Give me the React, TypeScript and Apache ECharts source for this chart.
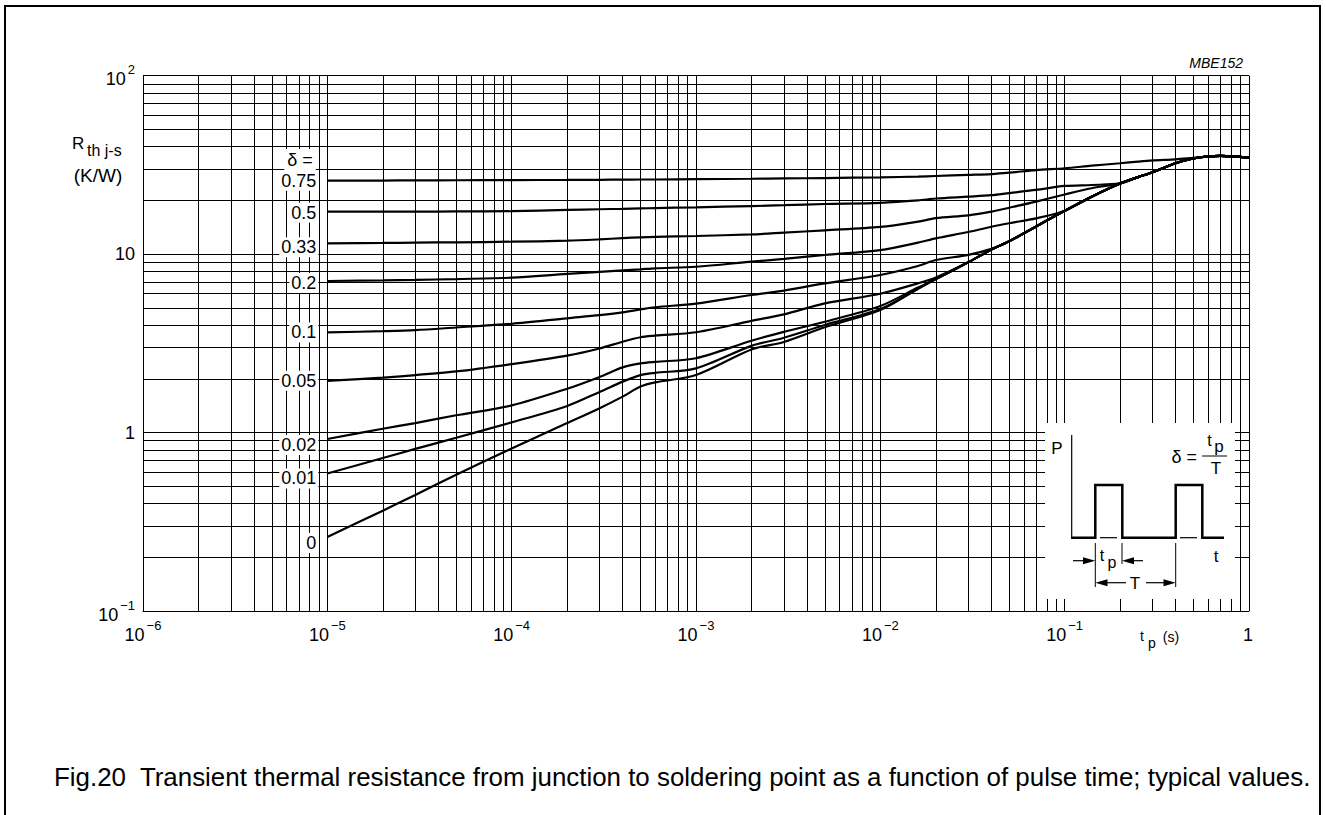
import React, { useEffect, useRef } from "react";
import * as echarts from "echarts";

const FONT = '"Liberation Sans", Arial, Helvetica, sans-serif';

// pulse time t_p (s)
const tp = [1e-5, 2e-5, 3e-5, 5e-5, 1e-4, 2e-4, 3e-4, 4e-4, 5e-4, 6e-4, 1e-3, 2e-3, 3e-3, 5e-3, 1e-2, 1.6e-2, 2e-2, 3e-2, 4e-2, 5e-2, 7e-2, 0.1, 0.14, 0.2, 0.25, 0.3, 0.4, 0.5, 0.7, 1];

// Rth j-s (K/W) per duty factor delta
const rD075 = [25.8, 25.85, 25.9, 25.95, 26.0, 26.05, 26.1, 26.15, 26.2, 26.2, 26.3, 26.45, 26.55, 26.7, 26.95, 27.2, 27.4, 27.8, 28.1, 28.6, 29.6, 30.3, 31.3, 32.3, 33.0, 33.5, 34.0, 34.6, 35.5, 34.7];
const rD050 = [17.3, 17.3, 17.3, 17.35, 17.4, 17.7, 17.85, 17.95, 18.04, 18.11, 18.3, 18.6, 18.8, 19.1, 19.4, 20.0, 20.5, 21.0, 21.4, 22.0, 22.9, 24.1, 24.4, 24.9, 27.0, 28.8, 32.3, 34.4, 35.5, 34.7];
const rD033 = [11.5, 11.55, 11.6, 11.65, 11.74, 11.89, 12.1, 12.3, 12.42, 12.5, 12.64, 12.9, 13.2, 13.6, 14.2, 15.2, 15.9, 16.5, 17.3, 18.2, 19.7, 21.6, 23.4, 24.9, 27.0, 28.8, 32.3, 34.4, 35.5, 34.7];
const rD020 = [7.07, 7.12, 7.17, 7.25, 7.38, 7.75, 7.95, 8.1, 8.22, 8.33, 8.5, 9.07, 9.4, 9.89, 10.54, 11.6, 12.26, 13.3, 14.24, 14.9, 15.87, 17.5, 21.0, 24.9, 27.0, 28.8, 32.3, 34.4, 35.5, 34.7];
const rD010 = [3.64, 3.7, 3.75, 3.88, 4.07, 4.37, 4.55, 4.72, 4.9, 5.04, 5.28, 5.9, 6.25, 6.86, 7.64, 8.58, 9.27, 9.9, 10.7, 11.8, 14.3, 17.5, 21.0, 24.9, 27.0, 28.8, 32.3, 34.4, 35.5, 34.7];
const rD005 = [1.95, 2.03, 2.1, 2.2, 2.42, 2.7, 2.96, 3.23, 3.42, 3.49, 3.65, 4.23, 4.6, 5.3, 6.0, 6.86, 7.4, 9.0, 10.6, 11.8, 14.3, 17.5, 21.0, 24.9, 27.0, 28.8, 32.3, 34.4, 35.5, 34.7];
const rD002 = [0.92, 1.05, 1.13, 1.25, 1.42, 1.76, 2.05, 2.32, 2.44, 2.49, 2.61, 3.27, 3.67, 4.18, 5.12, 6.5, 7.25, 9.0, 10.6, 11.8, 14.3, 17.5, 21.0, 24.9, 27.0, 28.8, 32.3, 34.4, 35.5, 34.7];
const rD001 = [0.59, 0.72, 0.81, 0.935, 1.14, 1.41, 1.69, 1.93, 2.1, 2.16, 2.29, 3.06, 3.4, 4.01, 4.92, 6.4, 7.25, 9.0, 10.6, 11.8, 14.3, 17.5, 21.0, 24.9, 27.0, 28.8, 32.3, 34.4, 35.5, 34.7];
const rD000 = [0.26, 0.365, 0.447, 0.58, 0.815, 1.13, 1.37, 1.59, 1.81, 1.91, 2.1, 2.92, 3.22, 3.89, 4.86, 6.4, 7.25, 9.0, 10.6, 11.8, 14.3, 17.5, 21.0, 24.9, 27.0, 28.8, 32.3, 34.4, 35.5, 34.7];

const deltaNames = ["0.75", "0.5", "0.33", "0.2", "0.1", "0.05", "0.02", "0.01", "0"];
const deltaValues = [rD075, rD050, rD033, rD020, rD010, rD005, rD002, rD001, rD000];

// axis decades (tick labels are 10^e)
const xDecades = [-6, -5, -4, -3, -2, -1, 0];
const yDecades = [-1, 0, 1, 2];
const minorSteps = [2, 3, 4, 5, 6, 7, 8, 9];

// vertical nudges of the delta labels relative to the curve start (px)
const labelShift = [0, 1, 4, 2, 0, 0, 6, 5, 6];

function decadeLabel(v: number, decades: number[], plain: boolean): string {
  const e = Math.round(Math.log10(v));
  if (decades.indexOf(e) < 0) return "";
  if (e === 0 || e === 1) {
    const t = e === 0 ? "1" : "10";
    return plain ? `{n|${t}}` : `{b|${t}}{s|\u200b}`;
  }
  return `{b|10}{s|${e < 0 ? "\u2212" : ""}${Math.abs(e)}}`;
}

const richStyles = {
  b: { fontSize: 18, fontFamily: FONT, color: "#000", verticalAlign: "bottom" },
  s: { fontSize: 13, fontFamily: FONT, color: "#000", verticalAlign: "top", padding: [0, 0, 12, 2] },
  n: { fontSize: 18, fontFamily: FONT, color: "#000" },
};

function txt(text: string, x: number, y: number, size: number, opts: any = {}) {
  const align = opts.align || "center";
  return {
    type: "text",
    x,
    y,
    z: 120,
    silent: true,
    style: {
      text,
      font: `${opts.italic ? "italic " : ""}${size}px ${FONT}`,
      fill: "#000",
      align,
      textAlign: align,
      verticalAlign: "middle",
      textVerticalAlign: "middle",
      ...(opts.bg ? { backgroundColor: "#fff", padding: opts.pad || [1, 2] } : {}),
    },
  };
}

function seg(x1: number, y1: number, x2: number, y2: number, w: number) {
  return { type: "line", z: 120, silent: true, shape: { x1, y1, x2, y2 }, style: { stroke: "#000", lineWidth: w } };
}

function tri(points: number[][]) {
  return { type: "polygon", z: 120, silent: true, shape: { points }, style: { fill: "#000" } };
}

function staticGraphics(): any[] {
  const g: any[] = [];
  // outer frame
  g.push({ type: "rect", z: 120, silent: true, shape: { x: 5, y: 6, width: 1315, height: 900 }, style: { fill: "none", stroke: "#000", lineWidth: 2 } });
  g.push(txt("MBE152", 1243, 63, 14, { italic: true, align: "right" }));
  // y-axis title
  g.push(txt("R", 72, 143, 17, { align: "left" }));
  g.push(txt("th j-s", 87, 150, 16, { align: "left" }));
  g.push(txt("(K/W)", 98, 175, 19));
  // delta header
  g.push(txt("\u03b4 =", 300, 160, 18, { bg: true, pad: [2, 3] }));
  // x-axis unit label
  g.push(txt("t", 1142, 636, 14));
  g.push(txt("p", 1152, 643, 14));
  g.push(txt("(s)", 1171, 637, 14));
  // inset
  g.push({ type: "rect", z: 110, silent: true, shape: { x: 1045, y: 423, width: 190, height: 176 }, style: { fill: "#fff" } });
  g.push(txt("P", 1057, 448, 17));
  g.push(seg(1071.7, 435, 1071.7, 537.7, 1.2));
  g.push({
    type: "polyline", z: 120, silent: true,
    shape: { points: [[1071, 537.7], [1095.3, 537.7], [1095.3, 485], [1122.3, 485], [1122.3, 537.7], [1175.7, 537.7], [1175.7, 485], [1202.3, 485], [1202.3, 537.7], [1224, 537.7]] },
    style: { stroke: "#000", lineWidth: 2.5, fill: "none" },
  });
  g.push({ type: "rect", z: 121, silent: true, shape: { x: 1097, y: 535.5, width: 24, height: 4.5 }, style: { fill: "#fff" } });
  g.push({ type: "rect", z: 121, silent: true, shape: { x: 1177.5, y: 535.5, width: 23, height: 4.5 }, style: { fill: "#fff" } });
  g.push({ ...seg(1100, 537.7, 1117, 537.7, 1.2), z: 122 });
  g.push({ ...seg(1180, 537.7, 1197, 537.7, 1.2), z: 122 });
  g.push(txt("\u03b4 =", 1197, 457, 18, { align: "right" }));
  g.push(seg(1202, 456, 1227, 456, 1));
  g.push(txt("t", 1209.5, 440, 16));
  g.push(txt("p", 1219, 446, 17));
  g.push(txt("T", 1216, 468, 17));
  g.push(txt("t", 1216, 556, 17));
  // markers
  g.push(seg(1095.3, 543, 1095.3, 587, 1));
  g.push(seg(1122, 543, 1122, 564, 1));
  g.push(seg(1175.7, 543, 1175.7, 587, 1));
  // tp arrows
  g.push(seg(1073, 560.7, 1085, 560.7, 1.2));
  g.push(tri([[1083, 557.2], [1095.3, 560.7], [1083, 564.2]]));
  g.push(seg(1132, 560.7, 1143, 560.7, 1.2));
  g.push(tri([[1134, 557.2], [1122, 560.7], [1134, 564.2]]));
  g.push(txt("t", 1102, 555, 16));
  g.push(txt("p", 1112, 562, 16));
  // T arrows
  g.push(seg(1105, 582.7, 1126, 582.7, 1.2));
  g.push(tri([[1107.5, 579.2], [1095.3, 582.7], [1107.5, 586.2]]));
  g.push(seg(1146, 582.7, 1166, 582.7, 1.2));
  g.push(tri([[1163.5, 579.2], [1175.7, 582.7], [1163.5, 586.2]]));
  g.push(txt("T", 1135, 583, 17));
  // caption
  g.push(txt("Fig.20  Transient thermal resistance from junction to soldering point as a function of pulse time; typical values.", 54, 777, 25.9, { align: "left" }));
  return g;
}

export default function App() {
  const ref = useRef<HTMLDivElement>(null);

  useEffect(() => {
    if (!ref.current) return;
    const chart = echarts.init(ref.current, undefined, { renderer: "svg" });

    const vLines: any[] = [];
    xDecades.forEach((e) => {
      vLines.push({ xAxis: Math.pow(10, e) });
      if (e < 0) minorSteps.forEach((k) => vLines.push({ xAxis: k * Math.pow(10, e) }));
    });
    const hLines: any[] = [];
    yDecades.forEach((e) => {
      hLines.push({ yAxis: Math.pow(10, e) });
      if (e < 2) minorSteps.forEach((k) => hLines.push({ yAxis: k * Math.pow(10, e) }));
    });

    const curveSeries = deltaValues.map((vals, i) => ({
      type: "line",
      name: deltaNames[i],
      data: tp.map((t, j) => [t, vals[j]]),
      smooth: 0.3,
      symbol: "none",
      showSymbol: false,
      silent: true,
      z: 5,
      lineStyle: { color: "#000", width: 2.2 },
      emphasis: { disabled: true },
    }));

    const option: any = {
      animation: false,
      backgroundColor: "#fff",
      grid: { left: 143, right: 77, top: 75.7, bottom: 204, containLabel: false, outerBoundsMode: "none" },
      xAxis: {
        type: "log",
        logBase: 10,
        min: 1e-6,
        max: 1,
        axisLine: { show: true, lineStyle: { color: "#000", width: 1 } },
        axisTick: { show: false },
        splitLine: { show: false },
        minorTick: { show: false },
        axisLabel: {
          margin: 8,
          showMinLabel: true,
          showMaxLabel: true,
          formatter: (v: number) => decadeLabel(v, xDecades, false),
          rich: richStyles,
        },
      },
      yAxis: {
        type: "log",
        logBase: 10,
        min: 0.1,
        max: 100,
        axisLine: { show: true, lineStyle: { color: "#000", width: 1 } },
        axisTick: { show: false },
        splitLine: { show: false },
        axisLabel: {
          margin: 8,
          showMinLabel: true,
          showMaxLabel: true,
          formatter: (v: number) => decadeLabel(v, yDecades, true),
          rich: richStyles,
        },
      },
      series: [
        {
          type: "line",
          name: "grid",
          data: [[1e-6, 0.1]],
          symbol: "none",
          silent: true,
          z: 1,
          lineStyle: { opacity: 0 },
          markLine: {
            silent: true,
            precision: 20,
            symbol: ["none", "none"],
            animation: false,
            label: { show: false },
            emphasis: { disabled: true },
            lineStyle: { color: "#000", width: 1, type: "solid", opacity: 1 },
            data: [...vLines, ...hLines],
          },
        },
        ...curveSeries,
      ],
    };
    chart.setOption(option);

    const labels = deltaNames.map((name, i) => {
      const p = chart.convertToPixel({ gridIndex: 0 }, [tp[0], deltaValues[i][0]]) as number[];
      return txt(name, p[0] - 9, p[1] + labelShift[i], 18, { align: "right", bg: true, pad: [1, 2] });
    });
    chart.setOption({ graphic: [...staticGraphics(), ...labels] });

    return () => chart.dispose();
  }, []);

  return (
    <div
      ref={ref}
      style={{ position: "fixed", left: 0, top: 0, width: 1326, height: 815, background: "#fff" }}
    />
  );
}
